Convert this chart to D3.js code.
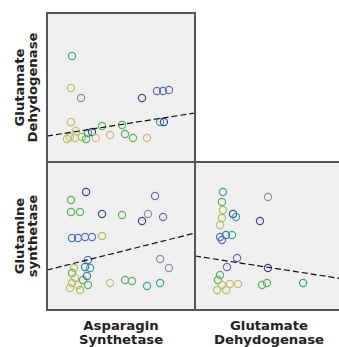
<!DOCTYPE html>
<html>
<head>
<meta charset="utf-8">
<script src="https://cdn.jsdelivr.net/npm/d3@7"></script>
<style>
  body { margin: 0; background: #fff; }
  text { font-family: "DejaVu Sans", sans-serif; font-weight: bold; font-size: 11.5px; fill: #222; }
</style>
</head>
<body>
<div id="chart"></div>
<script>
// variables (scaled 0-100 on each axis)
const varNames = [["Asparagin", "Synthetase"], ["Glutamate", "Dehydogenase"], ["Glutamine", "synthetase"]];

// colour groups used by the markers
const groupColors = ["#cbbd73", "#a7c45c", "#5fb15a", "#3fa39a", "#4a78b8", "#3c4a8e", "#7468ad", "#8f8fa3"];

// panel 1: Asparagin Synthetase (x) vs Glutamate Dehydogenase (y)
const p1x = [16.9, 16.2, 23, 16.2, 15.5, 18.9, 23.6, 27.7, 30.4, 37.2, 42.6, 50.7, 52.7, 58.1, 67.6, 64.2, 74.3, 78.4, 82.4, 76.4, 79, 19.6, 13.5, 33, 26.4];
const p1y = [71.1, 49.7, 43, 26.8, 16.8, 16.1, 16.8, 19.5, 20.1, 24.2, 18.1, 24.8, 18.8, 16.1, 16.1, 43, 47.7, 47.7, 48.3, 26.8, 26.8, 20.8, 15.4, 16.1, 15.4];
const p1g = [3, 0, 2, 0, 0, 0, 1, 3, 5, 2, 0, 2, 2, 2, 0, 5, 6, 4, 6, 3, 5, 0, 1, 0, 2];

// panel 2: Asparagin Synthetase (x) vs Glutamine synthetase (y)
const p2x = [26.4, 16.2, 73, 16.2, 22.3, 37.2, 50.7, 64.2, 68.2, 78.4, 16.9, 20.9, 25.7, 30.4, 37.2, 27.7, 25.7, 29.1, 76.4, 82.4, 52.7, 57.4, 67.6, 76.4, 42.6, 16.9, 18.9, 16.9, 20.9, 24.3, 27, 15.5, 22.3, 27.7, 18.2];
const p2y = [79.7, 74.3, 77, 66.2, 66.2, 64.9, 64.2, 60.1, 64.9, 62.8, 48.6, 48.6, 49.3, 49.3, 50, 33.8, 29.1, 28.4, 34.5, 28.4, 20.3, 19.6, 16.2, 18.2, 18.2, 25, 21.6, 18.2, 16.9, 20.3, 23, 14.9, 13.5, 16.9, 28.4];
const p2g = [5, 2, 6, 2, 2, 5, 2, 5, 7, 6, 4, 4, 4, 4, 1, 4, 4, 3, 7, 7, 2, 2, 3, 3, 0, 2, 0, 1, 0, 2, 4, 0, 1, 2, 1];

// panel 3: Glutamate Dehydogenase (x) vs Glutamine synthetase (y)
const p3x = [18.9, 49.3, 18.2, 18.9, 25.7, 27.7, 43.9, 16.9, 20.9, 25, 18.2, 28.4, 21.6, 49.3, 16.9, 15.5, 18.2, 23.6, 29.1, 14.9, 21, 45.3, 48.6, 73, 16.9, 18.2];
const p3y = [79.7, 76.4, 73, 67.6, 64.9, 62.8, 60.1, 49.3, 50.7, 50.7, 47.3, 35.1, 29.1, 28.4, 23.6, 20.3, 16.9, 17.6, 17.6, 13.5, 13.5, 16.9, 18.2, 18.2, 57.4, 62.2];
const p3g = [3, 7, 2, 1, 5, 3, 5, 4, 4, 3, 6, 4, 6, 5, 2, 2, 0, 0, 0, 1, 0, 2, 2, 3, 0, 1];

// fit lines: [value at x=0, value at x=100]
const fit1 = [17.4, 32.9];
const fit2 = [27, 52];
const fit3 = [36.5, 21];

const width = 339, height = 347;
const cols = [47, 195, 343];
const rows = [13, 162, 310];

const svg = d3.select('#chart')
  .append('svg')
  .attr('width', width)
  .attr('height', height);

const panels = [
  { c: 0, r: 0, xs: p1x, ys: p1y, gs: p1g, fit: fit1 },
  { c: 0, r: 1, xs: p2x, ys: p2y, gs: p2g, fit: fit2 },
  { c: 1, r: 1, xs: p3x, ys: p3y, gs: p3g, fit: fit3 }
];

panels.forEach(p => {
  const x = d3.scaleLinear().domain([0, 100]).range([cols[p.c], cols[p.c + 1]]);
  const y = d3.scaleLinear().domain([0, 100]).range([rows[p.r + 1], rows[p.r]]);
  const g = svg.append('g');

  g.append('rect')
    .attr('x', cols[p.c])
    .attr('y', rows[p.r])
    .attr('width', cols[p.c + 1] - cols[p.c])
    .attr('height', rows[p.r + 1] - rows[p.r])
    .attr('fill', '#efefef');

  g.selectAll('circle')
    .data(p.xs.map((v, i) => ({ x: v, y: p.ys[i], g: p.gs[i] })))
    .enter()
    .append('circle')
    .attr('cx', d => x(d.x))
    .attr('cy', d => y(d.y))
    .attr('r', 3.6)
    .attr('fill', 'none')
    .attr('stroke', d => groupColors[d.g])
    .attr('stroke-width', 1.2);

  g.append('line')
    .attr('x1', x(0)).attr('y1', y(p.fit[0]))
    .attr('x2', x(100)).attr('y2', y(p.fit[1]))
    .attr('stroke', '#111')
    .attr('stroke-width', 1.2)
    .attr('stroke-dasharray', '6,3');

  g.append('rect')
    .attr('x', cols[p.c])
    .attr('y', rows[p.r])
    .attr('width', cols[p.c + 1] - cols[p.c])
    .attr('height', rows[p.r + 1] - rows[p.r])
    .attr('fill', 'none')
    .attr('stroke', '#555')
    .attr('stroke-width', 2);
});

// row labels (rotated, one text per line)
[varNames[1], varNames[2]].forEach((lines, i) => {
  const cy = (rows[i] + rows[i + 1]) / 2;
  lines.forEach((s, j) => {
    svg.append('text')
      .attr('transform', 'translate(' + (24 + j * 13) + ',' + cy + ')rotate(-90)scale(1.15,1)')
      .attr('text-anchor', 'middle')
      .text(s);
  });
});

// column labels
[varNames[0], varNames[1]].forEach((lines, i) => {
  const cx = (cols[i] + cols[i + 1]) / 2;
  lines.forEach((s, j) => {
    svg.append('text')
      .attr('transform', 'translate(' + cx + ',' + (330 + j * 13.5) + ')scale(1.15,1)')
      .attr('text-anchor', 'middle')
      .text(s);
  });
});
</script>
</body>
</html>
